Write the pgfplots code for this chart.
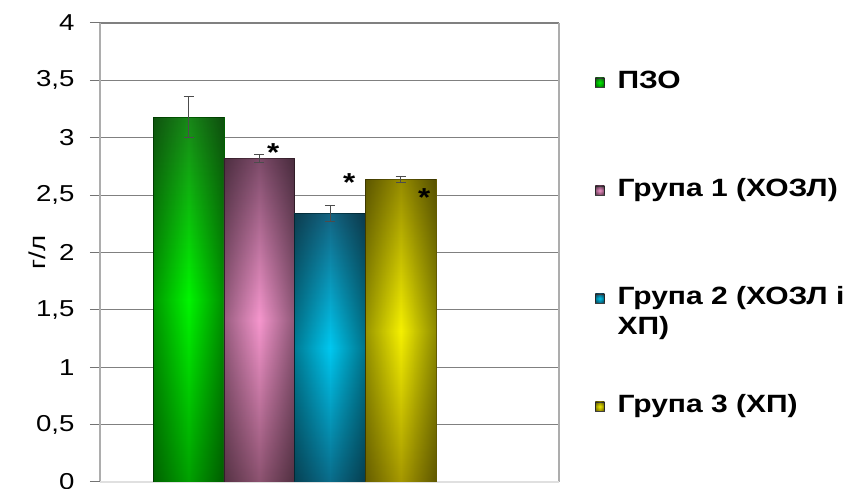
\documentclass[border=0pt]{standalone}
\usepackage{pgfplots}
\pgfplotsset{compat=1.18}
\usepackage{fontspec}
\setmainfont{Liberation Sans}[FakeStretch=1.2]

\definecolor{gT}{RGB}{25,135,25}\definecolor{gB}{RGB}{0,245,0}\definecolor{gD}{RGB}{0,160,0}\definecolor{gL}{RGB}{0,200,0}
\definecolor{pT}{RGB}{125,75,105}\definecolor{pB}{RGB}{245,150,205}\definecolor{pD}{RGB}{140,82,112}\definecolor{pL}{RGB}{230,130,180}
\definecolor{bT}{RGB}{20,100,130}\definecolor{bB}{RGB}{0,200,240}\definecolor{bD}{RGB}{10,108,138}\definecolor{bL}{RGB}{30,170,210}
\definecolor{yT}{RGB}{150,140,0}\definecolor{yB}{RGB}{245,240,0}\definecolor{yD}{RGB}{165,152,0}\definecolor{yL}{RGB}{220,210,0}

\pgfdeclareverticalshading{gshade}{100bp}{color(0bp)=(gD); color(25bp)=(gD); color(50bp)=(gB); color(75bp)=(gT); color(100bp)=(gT)}
\pgfdeclareverticalshading{pshade}{100bp}{color(0bp)=(pD); color(25bp)=(pD); color(50bp)=(pB); color(75bp)=(pT); color(100bp)=(pT)}
\pgfdeclareverticalshading{bshade}{100bp}{color(0bp)=(bD); color(25bp)=(bD); color(50bp)=(bB); color(75bp)=(bT); color(100bp)=(bT)}
\pgfdeclareverticalshading{yshade}{100bp}{color(0bp)=(yD); color(25bp)=(yD); color(50bp)=(yB); color(75bp)=(yT); color(100bp)=(yT)}

\tikzset{edgedark/.style={postaction={draw=none, left color=black!38, right color=black!42, middle color=white, blend mode=multiply}}}

\begin{document}
\begin{tikzpicture}
\begin{axis}[
  scale only axis, width=459pt, height=459pt,
  xmin=-0.252, xmax=6.24, ymin=0, ymax=4,
  ytick={0.5,1,1.5,2,2.5,3,3.5,4},
  extra y ticks={0},
  extra y tick style={grid style={black!12, line width=1.2pt}},
  xtick=\empty,
  ymajorgrids, grid style={black!50, line width=1.1pt},
  separate axis lines,
  x axis line style={draw=none},
  y axis line style={draw=black!32, line width=1.3pt},
  ytick pos=left,
  tick align=outside, major tick length=10pt,
  tick style={black!55, line width=1pt},
  yticklabel style={font=\fontsize{23}{27}\selectfont, xshift=-12pt},
  /pgf/number format/use comma,
  /pgf/number format/assume math mode=true,
  ylabel={г/л},
  ylabel style={at={(axis description cs:-0.137,0.5)}, anchor=center, font=\fontsize{23}{27}\selectfont},
  every axis plot/.append style={ybar, bar width=1, bar shift=0pt,
    error bars/y dir=both, error bars/y explicit,
    error bars/error bar style={black!70, line width=0.8pt},
    error bars/error mark options={rotate=90, mark size=5pt, black!70, line width=0.8pt}},
  legend cell align=left,
  legend style={at={(1.078,0.896)}, anchor=north west, draw=none, fill=none,
    inner sep=0pt, row sep=84pt,
    font=\fontsize{25}{29}\selectfont\bfseries,
    nodes={inner sep=0pt, text height=18pt, text depth=6pt, anchor=base west}},
]
\addplot[draw=gD!60!black, shading=gshade, edgedark,
  legend image code/.code={\draw[fill=gL, draw=black!75, line width=0.6pt] (0pt,2pt) rectangle (9pt,11pt); \path (22pt,0pt);}]
  coordinates {(1,3.18) +- (0,0.177)};
\addlegendentry{ПЗО}
\addplot[draw=pD!60!black, shading=pshade, edgedark,
  legend image code/.code={\draw[fill=pL, draw=black!75, line width=0.6pt] (0pt,2pt) rectangle (9pt,11pt); \path (22pt,0pt);}]
  coordinates {(2,2.82) +- (0,0.035)};
\addlegendentry{Група 1 (ХОЗЛ)}
\addplot[draw=bD!60!black, shading=bshade, edgedark,
  legend image code/.code={\draw[fill=bL, draw=black!75, line width=0.6pt] (0pt,2pt) rectangle (9pt,11pt); \path (22pt,0pt);}]
  coordinates {(3,2.34) +- (0,0.07)};
\addlegendentry{\smash{\rlap{\raisebox{-30pt}{ХП)}}}Група 2 (ХОЗЛ і}
\addplot[draw=yD!60!black, shading=yshade, edgedark,
  legend image code/.code={\draw[fill=yL, draw=black!75, line width=0.6pt] (0pt,2pt) rectangle (9pt,11pt); \path (22pt,0pt);}]
  coordinates {(4,2.635) +- (0,0.025)};
\addlegendentry{Група 3 (ХП)}

\node[anchor=base, yshift=-15pt, font=\fontsize{26}{30}\selectfont\bfseries] at (axis cs:2.199,2.928) {*};
\node[anchor=base, yshift=-15pt, font=\fontsize{26}{30}\selectfont\bfseries] at (axis cs:3.274,2.661) {*};
\node[anchor=base, yshift=-15pt, font=\fontsize{26}{30}\selectfont\bfseries] at (axis cs:4.335,2.530) {*};
\end{axis}
\pgfresetboundingbox
\path (-100pt,-7pt) rectangle (750pt,482pt);
\end{tikzpicture}
\end{document}
